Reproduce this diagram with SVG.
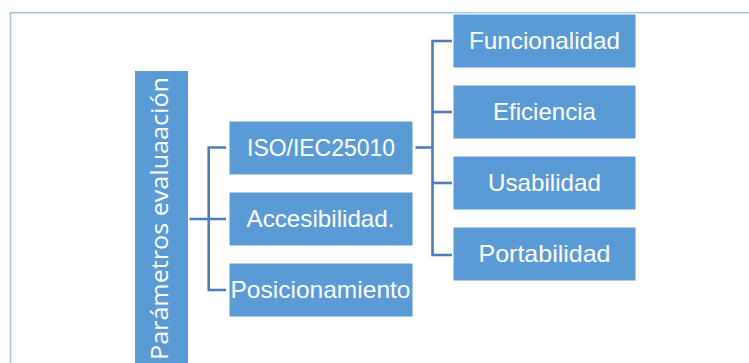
<svg xmlns="http://www.w3.org/2000/svg" width="749" height="363" viewBox="0 0 749 363">
<style>
.box{fill:#5B9BD5;stroke:#ffffff;stroke-width:1}
.lbl{font-family:"Liberation Sans",Arial,sans-serif;font-size:24px;fill:#ffffff;text-anchor:middle}
.root{font-family:"Open Sans","DejaVu Sans",sans-serif;font-size:23px;fill:#ffffff;text-anchor:middle}
.conn{fill:none;stroke:#4A7EBB;stroke-width:2.6}
</style>
<rect width="749" height="363" fill="#ffffff"/>
<path d="M749,12.7 H10.5 V363" fill="none" stroke="#9DC3E6" stroke-width="1.6"/>
<g id="connectors">
<path class="conn" d="M189.5,219 H226"/>
<path class="conn" d="M226,147.5 H208.7 V290 H226"/>
<path class="conn" d="M415.5,147.5 H432.5"/>
<path class="conn" d="M452,41 H432.5 V255 H452"/>
<path class="conn" d="M432.5,112 H452"/>
<path class="conn" d="M432.5,183 H452"/>
</g>
<g id="root">
<rect class="box" x="134.5" y="70.5" width="54" height="300"/>
<text class="root" transform="translate(168,218.5) rotate(-90)" textLength="283" lengthAdjust="spacingAndGlyphs">Parámetros evaluaación</text>
</g>
<g id="iso">
<rect class="box" x="229" y="121" width="184" height="54"/>
<text class="lbl" x="321" y="156" textLength="148" lengthAdjust="spacingAndGlyphs">ISO/IEC25010</text>
</g>
<g id="accesibilidad">
<rect class="box" x="229" y="192" width="184" height="54"/>
<text class="lbl" x="320.5" y="227" textLength="148" lengthAdjust="spacingAndGlyphs">Accesibilidad.</text>
</g>
<g id="posicionamiento">
<rect class="box" x="229" y="263" width="184" height="54"/>
<text class="lbl" x="320.5" y="298" textLength="180" lengthAdjust="spacingAndGlyphs">Posicionamiento</text>
</g>
<g id="funcionalidad">
<rect class="box" x="453" y="14" width="183" height="54"/>
<text class="lbl" x="544.5" y="49" textLength="151" lengthAdjust="spacingAndGlyphs">Funcionalidad</text>
</g>
<g id="eficiencia">
<rect class="box" x="453" y="85" width="183" height="54"/>
<text class="lbl" x="544.5" y="120" textLength="103" lengthAdjust="spacingAndGlyphs">Eficiencia</text>
</g>
<g id="usabilidad">
<rect class="box" x="453" y="156" width="183" height="54"/>
<text class="lbl" x="544.5" y="191" textLength="113" lengthAdjust="spacingAndGlyphs">Usabilidad</text>
</g>
<g id="portabilidad">
<rect class="box" x="453" y="227" width="183" height="54"/>
<text class="lbl" x="544.5" y="262" textLength="132" lengthAdjust="spacingAndGlyphs">Portabilidad</text>
</g>
</svg>
